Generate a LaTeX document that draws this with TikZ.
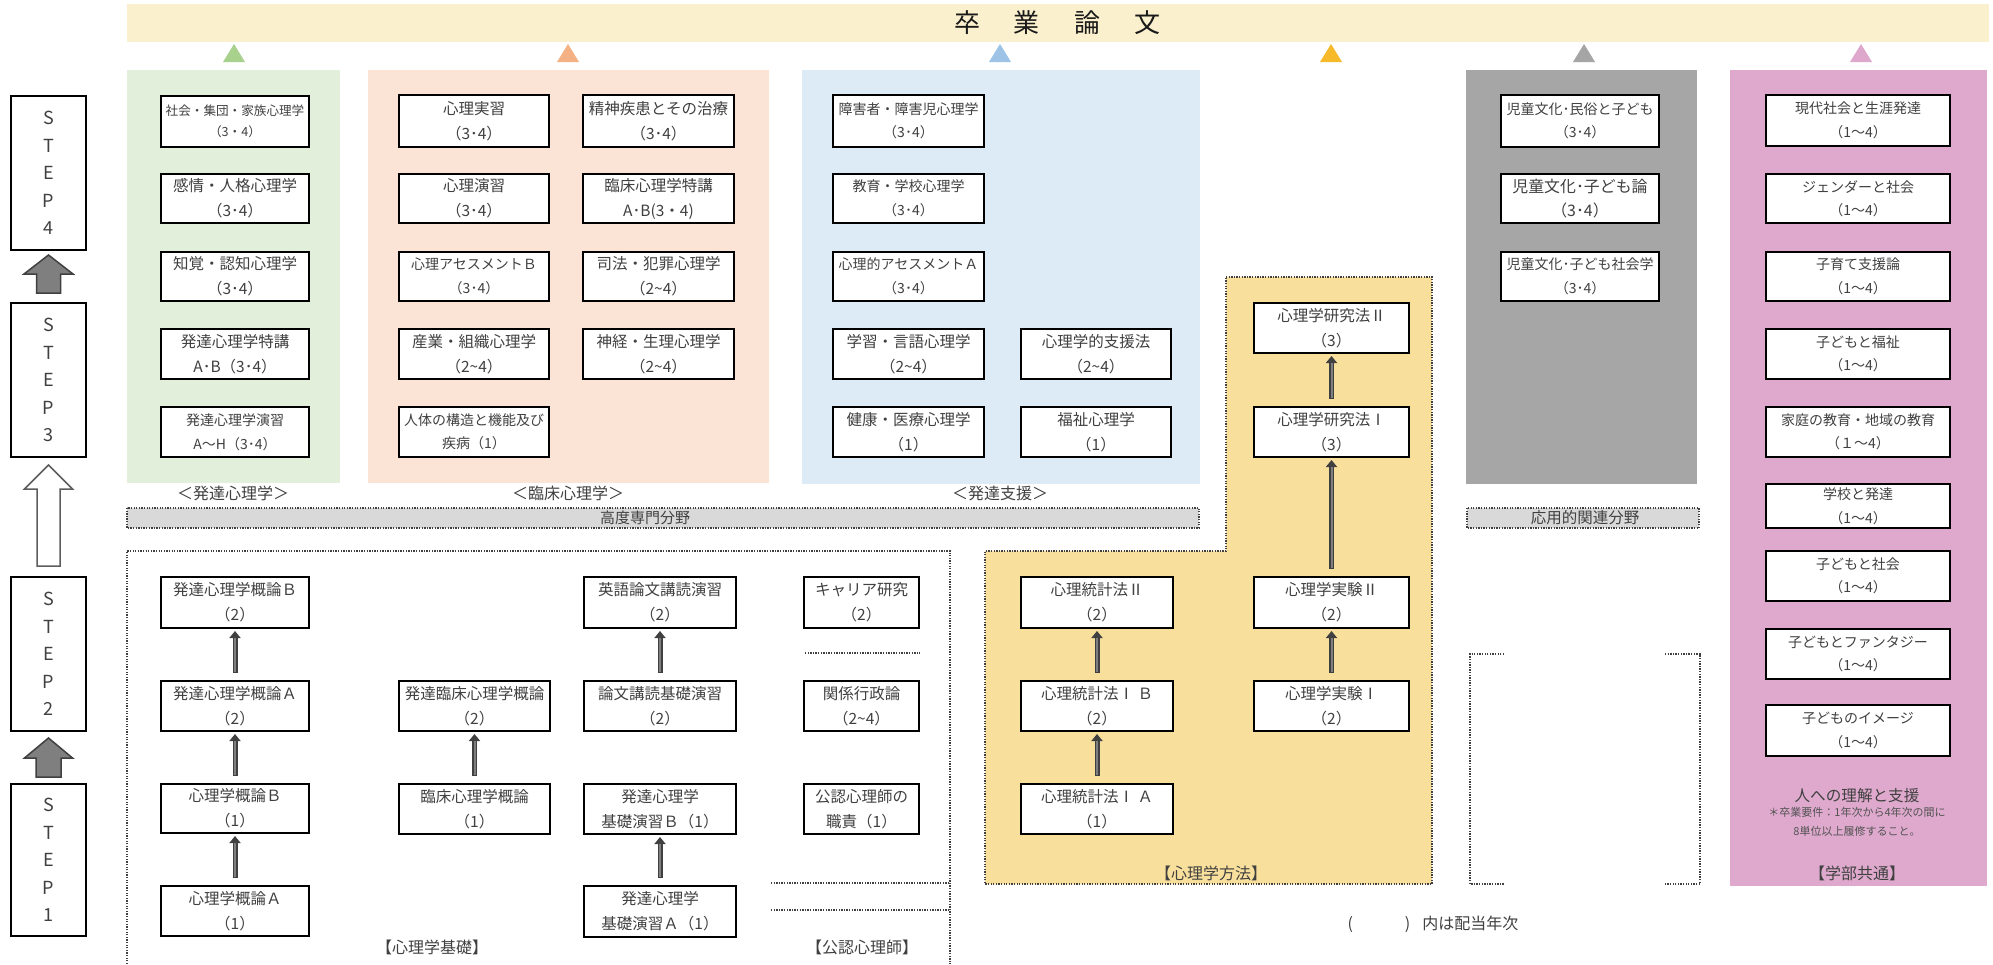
\documentclass[tikz,border=0pt]{standalone}
\usepackage{fontspec}
\setmainfont{Noto Sans CJK JP}
\usetikzlibrary{arrows.meta,calc}
\definecolor{bannerY}{HTML}{FBF0CD}
\definecolor{panG}{HTML}{E2EFDA}
\definecolor{panO}{HTML}{FBE3D6}
\definecolor{panB}{HTML}{DDEBF7}
\definecolor{panGr}{HTML}{A6A6A6}
\definecolor{panP}{HTML}{DEA9CD}
\definecolor{panY}{HTML}{F8E09C}
\definecolor{triG}{HTML}{A9D18E}
\definecolor{triO}{HTML}{F4B183}
\definecolor{triB}{HTML}{9DC3E6}
\definecolor{triY}{HTML}{F5B92A}
\definecolor{triGr}{HTML}{A5A5A5}
\definecolor{triP}{HTML}{DDA8CC}
\definecolor{txt}{HTML}{404040}
\definecolor{barGr}{HTML}{D9D9D9}
\definecolor{arrGr}{HTML}{7F7F7F}
\newcommand\crs[7]{\node[crs,#6,minimum width={#4-#2-2.4},minimum height={#5-#3-2.4}] (#1) at ({(#2+#4)/2},{(#3+#5)/2}) {#7};}
\newcommand\uparr[2]{\draw[thinarO] (#1.north) -- (#2.south);\draw[thinarI] (#1.north) -- (#2.south);}
\begin{document}
\begin{tikzpicture}[x=1pt,y=-1pt,
  every node/.style={text=txt},
  crs/.style={draw=black,line width=2.4pt,fill=white,align=center,inner sep=0pt},
  stepbox/.style={draw=black,line width=2.4pt,fill=white,align=center,inner sep=0pt,font=\fontsize{18}{27.6}\selectfont},
  ftN/.style={font=\fontsize{15.5}{25}\selectfont},
  ftS/.style={font=\fontsize{14}{23.5}\selectfont},
  ftXS/.style={font=\fontsize{12.6}{21}\selectfont},
  ftG/.style={font=\fontsize{15.9}{24}\selectfont},
  lbl/.style={font=\fontsize{16}{20}\selectfont},
  dotline/.style={draw=txt,line width=1.3pt,dash pattern=on 1.3pt off 1.3pt},
  thinarO/.style={draw=txt,line width=5pt,-{Triangle[length=7pt,width=11pt]},shorten <=7pt,shorten >=2pt},
  thinarI/.style={draw=arrGr,line width=2pt,shorten <=8pt,shorten >=9pt},
  bigarG/.style={fill=arrGr,draw=txt,line width=1.5pt,line join=miter},
  bigarW/.style={fill=white,draw=txt!85,line width=1.5pt,line join=miter}
]
\useasboundingbox (0,0) rectangle (1993,964);
\fill[white] (0,0) rectangle (1993,964);
% banner
\fill[bannerY] (127,4) rectangle (1989,42);
\node[font=\fontsize{26}{30}\selectfont,text=black!90] (title) at (1057,23) {卒\hspace{34pt}業\hspace{34pt}論\hspace{34pt}文};
% triangles
\foreach \cx/\cc in {234/triG,568/triO,1000/triB,1331/triY,1584/triGr,1861/triP}
  \fill[\cc] (\cx-11,62) -- (\cx+11,62) -- (\cx,44) -- cycle;
% panels
\fill[panG] (127,70) rectangle (340,483);
\fill[panO] (368,70) rectangle (769,483);
\fill[panB] (802,70) rectangle (1200,484);
\fill[panGr] (1466,70) rectangle (1697,484);
\fill[panP] (1730,70) rectangle (1987,886);
% yellow region
\fill[panY] (1226,277) -- (1432,277) -- (1432,884) -- (985,884) -- (985,551) -- (1226,551) -- cycle;
\draw[dotline] (1226,277) -- (1432,277) -- (1432,884) -- (985,884) -- (985,551) -- (1226,551) -- cycle;
% bars
\fill[barGr] (127,508) rectangle (1199,528);
\draw[dotline] (127,508) rectangle (1199,528);
\node[font=\fontsize{15}{18}\selectfont] (kodo) at (645,518) {高度専門分野};
\fill[barGr] (1467,508) rectangle (1699,528);
\draw[dotline] (1467,508) rectangle (1699,528);
\node[font=\fontsize{15.5}{18}\selectfont] (oyo) at (1585,518) {応用的関連分野};
% dotted frames
\draw[dotline] (127,964) -- (127,551) -- (950,551) -- (950,964);
\draw[dotline] (805,653) -- (920,653);
\draw[dotline] (771,883) -- (950,883);
\draw[dotline] (771,910) -- (950,910);
\draw[dotline] (1504,654) -- (1470,654) -- (1470,884) -- (1504,884);
\draw[dotline] (1665,654) -- (1700,654) -- (1700,884) -- (1665,884);
% STEP boxes
\crs{s4}{10}{95}{87}{251}{stepbox}{S\\T\\E\\P\\4}
\crs{s3}{10}{302}{87}{458}{stepbox}{S\\T\\E\\P\\3}
\crs{s2}{10}{576}{87}{732}{stepbox}{S\\T\\E\\P\\2}
\crs{s1}{10}{783}{87}{937}{stepbox}{S\\T\\E\\P\\1}
\draw[bigarG] ($(s3.north)+(-12,-9)$) -- ($(s3.north)+(12,-9)$) -- ($(s4.south)+(12,23)$) -- ($(s4.south)+(24.5,23)$) -- ($(s4.south)+(0,4)$) -- ($(s4.south)+(-24.5,23)$) -- ($(s4.south)+(-12,23)$) -- cycle;
\draw[bigarW] ($(s2.north)+(-11.5,-10)$) -- ($(s2.north)+(11.5,-10)$) -- ($(s3.south)+(11.5,31)$) -- ($(s3.south)+(24,31)$) -- ($(s3.south)+(0,7)$) -- ($(s3.south)+(-24,31)$) -- ($(s3.south)+(-11.5,31)$) -- cycle;
\draw[bigarG] ($(s1.north)+(-12.5,-6)$) -- ($(s1.north)+(12.5,-6)$) -- ($(s2.south)+(12.5,26)$) -- ($(s2.south)+(24,26)$) -- ($(s2.south)+(0,6)$) -- ($(s2.south)+(-24,26)$) -- ($(s2.south)+(-12.5,26)$) -- cycle;
% green panel
\crs{g1}{160}{95}{310}{148}{ftXS}{社会・集団・家族心理学\\（3・4）}
\crs{g2}{160}{173}{310}{224}{ftN}{感情・人格心理学\\（3･4）}
\crs{g3}{160}{251}{310}{302}{ftN}{知覚・認知心理学\\（3･4）}
\crs{g4}{160}{328}{310}{380}{ftN}{発達心理学特講\\A･B（3･4）}
\crs{g5}{160}{406}{310}{458}{ftS}{発達心理学演習\\A～H（3･4）}
\node[lbl] (lg) at (233,493) {＜発達心理学＞};
% orange panel
\crs{o1}{398}{94}{550}{148}{ftN}{心理実習\\（3･4）}
\crs{o2}{398}{173}{550}{224}{ftN}{心理演習\\（3･4）}
\crs{o3}{398}{251}{550}{302}{ftS}{心理アセスメントＢ\\（3･4）}
\crs{o4}{398}{328}{550}{380}{ftN}{産業・組織心理学\\（2\textasciitilde 4）}
\crs{o5}{398}{406}{550}{458}{ftS}{人体の構造と機能及び\\疾病（1）}
\crs{o6}{582}{94}{735}{148}{ftN}{精神疾患とその治療\\（3･4）}
\crs{o7}{582}{173}{735}{224}{ftN}{臨床心理学特講\\A･B(3・4)}
\crs{o8}{582}{251}{735}{302}{ftN}{司法・犯罪心理学\\（2\textasciitilde 4）}
\crs{o9}{582}{328}{735}{380}{ftN}{神経・生理心理学\\（2\textasciitilde 4）}
\node[lbl] (lo) at (568,493) {＜臨床心理学＞};
% blue panel
\crs{b1}{832}{94}{985}{148}{ftS}{障害者・障害児心理学\\（3･4）}
\crs{b2}{832}{173}{985}{224}{ftS}{教育・学校心理学\\（3･4）}
\crs{b3}{832}{251}{985}{302}{ftS}{心理的アセスメントＡ\\（3･4）}
\crs{b4}{832}{328}{985}{380}{ftN}{学習・言語心理学\\（2\textasciitilde 4）}
\crs{b5}{832}{406}{985}{458}{ftN}{健康・医療心理学\\（1）}
\crs{b6}{1020}{328}{1172}{380}{ftN}{心理学的支援法\\（2\textasciitilde 4）}
\crs{b7}{1020}{406}{1172}{458}{ftN}{福祉心理学\\（1）}
\node[lbl] (lb) at (1000,493) {＜発達支援＞};
% gray panel
\crs{gr1}{1500}{94}{1660}{148}{ftS}{児童文化･民俗と子ども\\（3･4）}
\crs{gr2}{1500}{173}{1660}{224}{ftG}{児童文化･子ども論\\（3･4）}
\crs{gr3}{1500}{251}{1660}{302}{ftS}{児童文化･子ども社会学\\（3･4）}
% pink panel
\crs{p1}{1765}{94}{1951}{147}{ftS}{現代社会と生涯発達\\（1～4）}
\crs{p2}{1765}{173}{1951}{224}{ftS}{ジェンダーと社会\\（1～4）}
\crs{p3}{1765}{251}{1951}{302}{ftS}{子育て支援論\\（1～4）}
\crs{p4}{1765}{328}{1951}{380}{ftS}{子どもと福祉\\（1～4）}
\crs{p5}{1765}{406}{1951}{458}{ftS}{家庭の教育・地域の教育\\（１～4）}
\crs{p6}{1765}{483}{1951}{529}{ftS}{学校と発達\\（1～4）}
\crs{p7}{1765}{550}{1951}{602}{ftS}{子どもと社会\\（1～4）}
\crs{p8}{1765}{628}{1951}{680}{ftS}{子どもとファンタジー\\（1～4）}
\crs{p9}{1765}{704}{1951}{757}{ftS}{子どものイメージ\\（1～4）}
\node[font=\fontsize{15.6}{18}\selectfont] (pk1) at (1857,796) {人への理解と支援};
\node[font=\fontsize{11}{13}\selectfont,text=txt!90] (pk2) at (1857,812) {＊卒業要件：1年次から4年次の間に};
\node[font=\fontsize{11}{13}\selectfont,text=txt!90] (pk3) at (1857,831) {8単位以上履修すること。};
\node[lbl] (pk4) at (1857,873) {【学部共通】};
% yellow region boxes
\crs{y1}{1253}{302}{1410}{354}{ftN}{心理学研究法Ⅱ\\（3）}
\crs{y2}{1253}{406}{1410}{458}{ftN}{心理学研究法Ⅰ\\（3）}
\crs{y3}{1020}{576}{1174}{629}{ftN}{心理統計法Ⅱ\\（2）}
\crs{y4}{1020}{680}{1174}{732}{ftN}{心理統計法Ⅰ Ｂ\\（2）}
\crs{y5}{1020}{783}{1174}{835}{ftN}{心理統計法Ⅰ Ａ\\（1）}
\crs{y6}{1253}{576}{1410}{629}{ftN}{心理学実験Ⅱ\\（2）}
\crs{y7}{1253}{680}{1410}{732}{ftN}{心理学実験Ⅰ\\（2）}
\node[lbl] (ly) at (1211,873) {【心理学方法】};
\uparr{y5}{y4}
\uparr{y4}{y3}
\uparr{y7}{y6}
\uparr{y6}{y2}
\uparr{y2}{y1}
% lower left boxes
\crs{k1}{160}{576}{310}{629}{ftN}{発達心理学概論Ｂ\\（2）}
\crs{k2}{160}{680}{310}{732}{ftN}{発達心理学概論Ａ\\（2）}
\crs{k3}{160}{783}{310}{834}{ftN}{心理学概論Ｂ\\（1）}
\crs{k4}{160}{885}{310}{937}{ftN}{心理学概論Ａ\\（1）}
\crs{c1}{398}{680}{551}{732}{ftN}{発達臨床心理学概論\\（2）}
\crs{c2}{398}{783}{551}{835}{ftN}{臨床心理学概論\\（1）}
\crs{e1}{583}{576}{737}{629}{ftN}{英語論文講読演習\\（2）}
\crs{e2}{583}{680}{737}{732}{ftN}{論文講読基礎演習\\（2）}
\crs{e3}{583}{783}{737}{835}{ftN}{発達心理学\\基礎演習Ｂ（1）}
\crs{e4}{583}{885}{737}{938}{ftN}{発達心理学\\基礎演習Ａ（1）}
\crs{q1}{803}{576}{920}{629}{ftN}{キャリア研究\\（2）}
\crs{q2}{803}{680}{920}{732}{ftN}{関係行政論\\（2\textasciitilde 4）}
\crs{q3}{803}{783}{920}{835}{ftN}{公認心理師の\\職責（1）}
\uparr{k4}{k3}
\uparr{k3}{k2}
\uparr{k2}{k1}
\uparr{c2}{c1}
\uparr{e4}{e3}
\uparr{e2}{e1}
\node[lbl] (lk) at (432,947) {【心理学基礎】};
\node[lbl] (lq) at (862,947) {【公認心理師】};
% note
\node[lbl,anchor=west] (note) at (1344,924) {(\hspace{52pt})\hspace{12pt}内は配当年次};
\end{tikzpicture}
\end{document}
